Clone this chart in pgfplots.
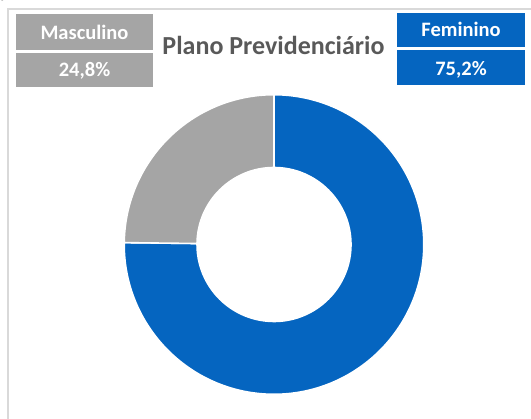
\documentclass[border=0pt]{standalone}
\usepackage{fontspec}
\setmainfont{Carlito}
\usepackage{pgfplots}
\usepackage{pgfplotstable}
\pgfplotsset{compat=1.18}
\definecolor{mascol}{HTML}{A5A5A5}
\definecolor{femcol}{HTML}{0565C0}
\definecolor{titcol}{HTML}{595959}
\definecolor{framecol}{HTML}{D9D9D9}

\pgfplotstableread{
label value
Masculino 24.8
Feminino 75.2
}\sexdata

\begin{document}
\begin{tikzpicture}
\useasboundingbox (0pt,0pt) rectangle (531pt,-419pt);
% cut-off heading above the frame
\node[anchor=base west, inner sep=0pt, font=\fontsize{20}{24}\selectfont] at (0pt,2pt) {por sexo};
% frame
\draw[framecol, line width=2pt] (8pt,-440pt) -- (8pt,-9pt) -- (560pt,-9pt);

\pgfplotstablegetelem{0}{value}\of\sexdata
\pgfmathsetmacro\vM{\pgfplotsretval}
\pgfplotstablegetelem{1}{value}\of\sexdata
\pgfmathsetmacro\vF{\pgfplotsretval}
\pgfmathsetmacro\aS{90}
\pgfmathsetmacro\aM{90+3.6*\vM}
\pgfmathsetmacro\aE{\aM+3.6*\vF}

\begin{axis}[
  at={(274pt,-244.5pt)}, anchor=center,
  scale only axis, width=300pt, height=300pt,
  xmin=-1, xmax=1, ymin=-1, ymax=1,
  hide axis, clip=false]
  \filldraw[fill=femcol, draw=white, line width=1.6pt]
    ([shift={(\aM:149.8pt)}]axis cs:0,0) arc[start angle=\aM, end angle=\aE, radius=149.8pt]
    -- ([shift={(\aE:77pt)}]axis cs:0,0) arc[start angle=\aE, end angle=\aM, radius=77pt] -- cycle;
  \filldraw[fill=mascol, draw=white, line width=1.6pt]
    ([shift={(\aS:149.8pt)}]axis cs:0,0) arc[start angle=\aS, end angle=\aM, radius=149.8pt]
    -- ([shift={(\aM:77pt)}]axis cs:0,0) arc[start angle=\aM, end angle=\aS, radius=77pt] -- cycle;
\end{axis}

% boxes
\fill[mascol] (16pt,-14pt) rectangle (153pt,-50pt);
\fill[mascol] (16pt,-53pt) rectangle (153pt,-87pt);
\fill[femcol] (397pt,-13pt) rectangle (525pt,-47pt);
\fill[femcol] (397pt,-50pt) rectangle (525pt,-85pt);
\begin{scope}[every node/.style={anchor=base, inner sep=0pt, text=white, font=\fontsize{20.5}{24}\selectfont\bfseries}]
\node at (84.5pt,-40pt) {Masculino};
\node at (84.5pt,-77pt) {24,8\%};
\node at (461pt,-37pt) {Feminino};
\node at (461pt,-75.5pt) {75,2\%};
\end{scope}
\node[anchor=base, inner sep=0pt, text=titcol, font=\fontsize{26}{30}\selectfont\bfseries] at (273.5pt,-55pt) {Plano Previdenciário};
\end{tikzpicture}
\end{document}
